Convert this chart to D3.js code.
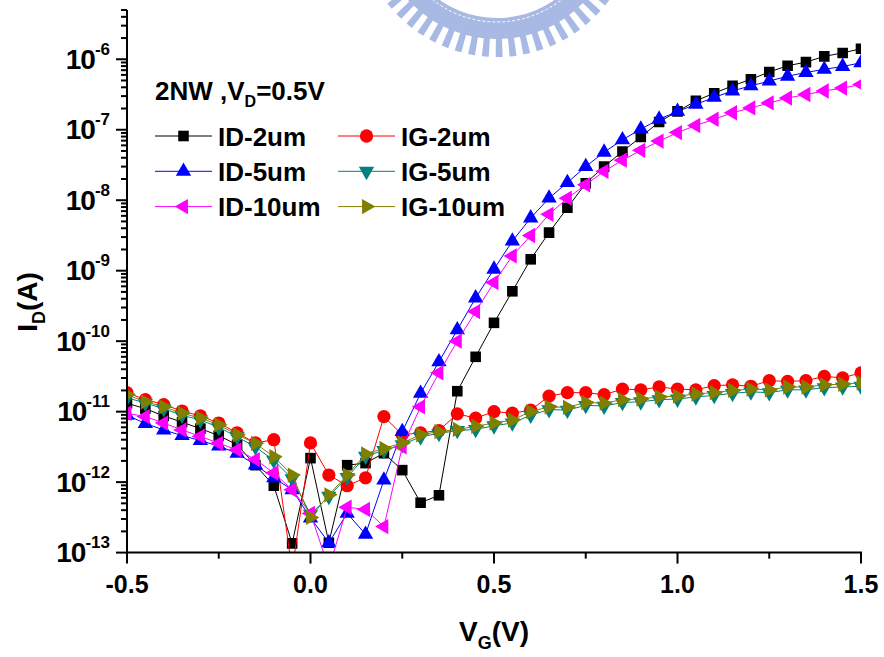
<!DOCTYPE html>
<html>
<head>
<meta charset="utf-8">
<script src="https://cdn.jsdelivr.net/npm/d3@7"></script>
<style>
  body { margin: 0; background: #fff; }
  text { font-family: "Liberation Sans", Arial, sans-serif; font-weight: bold; fill: #000; }
</style>
</head>
<body>
<script>
// gate voltage (V)
const Vg = [-0.5, -0.45, -0.4, -0.35, -0.3, -0.25, -0.2, -0.15, -0.1, -0.05,
            0.0, 0.05, 0.1, 0.15, 0.2, 0.25, 0.3, 0.35, 0.4, 0.45,
            0.5, 0.55, 0.6, 0.65, 0.7, 0.75, 0.8, 0.85, 0.9, 0.95,
            1.0, 1.05, 1.1, 1.15, 1.2, 1.25, 1.3, 1.35, 1.4, 1.45, 1.5];

// currents (A)
const id2um = [1.32e-11, 1.10e-11, 8.7e-12, 7.08e-12, 5.75e-12, 4.57e-12, 3.39e-12, 1.74e-12, 8.9e-13, 1.35e-13,
               2.19e-12, 1.38e-13, 1.74e-12, 1.86e-12, 2.57e-12, 1.48e-12, 5.1e-13, 6.5e-13, 1.95e-11, 6.0e-11,
               1.82e-10, 5.1e-10, 1.45e-9, 3.47e-9, 7.8e-9, 1.74e-8, 3.0e-8, 4.9e-8, 7.9e-8, 1.29e-7,
               1.82e-7, 2.57e-7, 3.3e-7, 4.2e-7, 5.2e-7, 6.6e-7, 8.1e-7, 9.1e-7, 1.10e-6, 1.23e-6, 1.41e-6];
const ig2um = [1.86e-11, 1.48e-11, 1.26e-11, 1.02e-11, 8.7e-12, 6.9e-12, 5.0e-12, 3.6e-12, 4.0e-12, 5.6e-14,
               3.6e-12, 1.26e-12, 8.9e-13, 1.15e-12, 8.5e-12, 4.7e-12, 5.0e-12, 5.4e-12, 9.3e-12, 8.1e-12,
               1.0e-11, 9.5e-12, 1.05e-11, 1.66e-11, 1.86e-11, 1.86e-11, 1.74e-11, 2.09e-11, 2.04e-11, 2.24e-11,
               2.09e-11, 2.04e-11, 2.34e-11, 2.40e-11, 2.29e-11, 2.75e-11, 2.69e-11, 2.75e-11, 3.16e-11, 3.02e-11, 3.55e-11];
const id5um = [8.9e-12, 6.8e-12, 5.5e-12, 4.57e-12, 3.89e-12, 3.24e-12, 2.57e-12, 1.74e-12, 1.15e-12, 7.8e-13,
               3.1e-13, 1.38e-13, 3.6e-13, 1.82e-13, 1.07e-12, 5.2e-12, 1.82e-11, 5.1e-11, 1.45e-10, 4.1e-10,
               1.05e-9, 2.63e-9, 5.6e-9, 1.07e-8, 1.78e-8, 3.0e-8, 4.8e-8, 7.2e-8, 1.02e-7, 1.41e-7,
               1.82e-7, 2.29e-7, 2.88e-7, 3.55e-7, 4.2e-7, 4.9e-7, 5.75e-7, 6.5e-7, 7.2e-7, 7.9e-7, 8.9e-7];
const ig5um = [1.58e-11, 1.32e-11, 1.10e-11, 8.9e-12, 7.6e-12, 6.0e-12, 4.4e-12, 3.16e-12, 2.04e-12, 1.12e-12,
               3.5e-13, 6.3e-13, 1.17e-12, 2.34e-12, 2.82e-12, 3.39e-12, 4.4e-12, 4.9e-12, 5.4e-12, 5.6e-12,
               6.3e-12, 6.9e-12, 8.9e-12, 1.07e-11, 1.05e-11, 1.23e-11, 1.20e-11, 1.35e-11, 1.38e-11, 1.48e-11,
               1.51e-11, 1.62e-11, 1.70e-11, 1.82e-11, 1.91e-11, 1.86e-11, 2.04e-11, 2.04e-11, 2.19e-11, 2.24e-11, 2.29e-11];
const id10um = [9.5e-12, 8.5e-12, 6.9e-12, 5.5e-12, 4.47e-12, 3.55e-12, 2.88e-12, 2.09e-12, 1.35e-12, 7.8e-13,
                3.6e-13, 6.0e-14, 4.4e-13, 4.1e-13, 2.34e-13, 3.16e-12, 1.17e-11, 3.55e-11, 1.0e-10, 2.63e-10,
                6.8e-10, 1.62e-9, 3.16e-9, 6.3e-9, 1.07e-8, 1.66e-8, 2.57e-8, 3.7e-8, 5.1e-8, 6.9e-8,
                9.1e-8, 1.15e-7, 1.41e-7, 1.74e-7, 2.04e-7, 2.40e-7, 2.82e-7, 3.16e-7, 3.55e-7, 3.9e-7, 4.4e-7];
const ig10um = [1.74e-11, 1.38e-11, 1.17e-11, 9.5e-12, 8.1e-12, 6.5e-12, 4.7e-12, 3.55e-12, 2.29e-12, 1.26e-12,
                3.16e-13, 6.6e-13, 1.26e-12, 2.51e-12, 3.0e-12, 3.6e-12, 4.7e-12, 5.2e-12, 5.6e-12, 6.2e-12,
                6.9e-12, 7.6e-12, 1.0e-11, 1.17e-11, 1.15e-11, 1.35e-11, 1.32e-11, 1.48e-11, 1.51e-11, 1.62e-11,
                1.66e-11, 1.78e-11, 1.86e-11, 2.0e-11, 2.09e-11, 2.04e-11, 2.24e-11, 2.24e-11, 2.40e-11, 2.45e-11, 2.57e-11];

const xTicks = [-0.5, 0.0, 0.5, 1.0, 1.5];
const xTickLabels = ["-0.5", "0.0", "0.5", "1.0", "1.5"];
const yDecades = [-13, -12, -11, -10, -9, -8, -7, -6];

const width = 884, height = 657;
const pLeft = 127, pRight = 861, pTop = 10, pBottom = 552.6;

const svg = d3.select("body").append("svg")
    .attr("width", width)
    .attr("height", height);

// faint watermark logo behind the plot
const wm = svg.append("g").attr("transform", "translate(497,-82)").attr("fill", "#93a8dd").attr("opacity", 0.8);
wm.append("path").attr("d", d3.arc()({innerRadius: 100, outerRadius: 121, startAngle: Math.PI / 2, endAngle: 3 * Math.PI / 2}));
for (let a = Math.PI / 2 + 0.03; a < 3 * Math.PI / 2; a += 0.1) {
    wm.append("path").attr("d", d3.arc()({innerRadius: 119, outerRadius: 139, startAngle: a, endAngle: a + 0.05}));
}
wm.append("circle").attr("r", 104).attr("fill", "none").attr("stroke", "#fff")
    .attr("stroke-width", 1).attr("stroke-dasharray", "3,2");

const x = d3.scaleLinear().domain([-0.5, 1.5]).range([pLeft, pRight]);
const y = d3.scaleLog().domain([1e-13, 5e-6]).range([pBottom, pTop]);

svg.append("clipPath").attr("id", "plot")
    .append("rect").attr("x", pLeft).attr("y", pTop).attr("width", pRight - pLeft).attr("height", pBottom - pTop);

const series = [
    {name: "ID-2um", values: id2um, color: "#000000", type: d3.symbolSquare, rot: 0, size: 112},
    {name: "IG-2um", values: ig2um, color: "#ff0000", type: d3.symbolCircle, rot: 0, size: 138},
    {name: "ID-5um", values: id5um, color: "#0000ff", type: d3.symbolTriangle, rot: 0, size: 102},
    {name: "IG-5um", values: ig5um, color: "#008080", type: d3.symbolTriangle, rot: 180, size: 102},
    {name: "ID-10um", values: id10um, color: "#ff00ff", type: d3.symbolTriangle, rot: -90, size: 102},
    {name: "IG-10um", values: ig10um, color: "#808000", type: d3.symbolTriangle, rot: 90, size: 102}
];

const line = d3.line().x(d => x(d[0])).y(d => y(d[1]));
const plot = svg.append("g").attr("clip-path", "url(#plot)");

series.forEach(s => {
    const pts = Vg.map((v, i) => [v, s.values[i]]);
    plot.append("path")
        .attr("d", line(pts))
        .attr("fill", "none")
        .attr("stroke", s.color)
        .attr("stroke-width", 1);
    plot.append("g").selectAll("path")
        .data(pts)
        .enter().append("path")
        .attr("d", d3.symbol().type(s.type).size(s.size))
        .attr("transform", d => `translate(${x(d[0])},${y(d[1])}) rotate(${s.rot})`)
        .attr("fill", s.color);
});

// axes
const axes = svg.append("g").attr("stroke", "#000").attr("stroke-width", 2);
axes.append("line").attr("x1", pLeft).attr("x2", pLeft).attr("y1", pTop).attr("y2", pBottom + 1);
axes.append("line").attr("x1", pLeft - 1).attr("x2", pRight + 1).attr("y1", pBottom).attr("y2", pBottom);

// x ticks
[-0.5, -0.25, 0, 0.25, 0.5, 0.75, 1.0, 1.25, 1.5].forEach(v => {
    const major = xTicks.includes(v);
    axes.append("line").attr("x1", x(v)).attr("x2", x(v))
        .attr("y1", pBottom).attr("y2", pBottom + (major ? 11 : 6));
});
svg.append("g").selectAll("text")
    .data(xTicks)
    .enter().append("text")
    .attr("x", d => x(d))
    .attr("y", 593)
    .attr("text-anchor", "middle")
    .attr("font-size", 25)
    .text((d, i) => xTickLabels[i]);

// y ticks (log)
const yMinor = y.ticks().filter(v => v >= 1e-13 && v <= 5e-6);
yMinor.forEach(v => {
    const major = Math.abs(Math.log10(v) - Math.round(Math.log10(v))) < 1e-6;
    axes.append("line").attr("x1", pLeft).attr("x2", pLeft - (major ? 11 : 6))
        .attr("y1", y(v)).attr("y2", y(v));
});
const yl = svg.append("g").selectAll("text")
    .data(yDecades)
    .enter().append("text")
    .attr("x", 110)
    .attr("y", d => y(Math.pow(10, d)))
    .attr("dy", "0.34em")
    .attr("text-anchor", "end")
    .attr("font-size", 28)
    .attr("letter-spacing", -1);
yl.append("tspan").text("10");
yl.append("tspan").attr("font-size", 17).attr("dy", -14).attr("letter-spacing", 0).text(d => d);

// axis titles
const xt = svg.append("text").attr("x", 494).attr("y", 641).attr("text-anchor", "middle").attr("font-size", 28);
xt.append("tspan").text("V");
xt.append("tspan").attr("font-size", 18).attr("dy", 8).text("G");
xt.append("tspan").attr("dy", -8).text("(V)");

const yt = svg.append("text").attr("transform", "translate(37,302) rotate(-90)")
    .attr("text-anchor", "middle").attr("font-size", 28);
yt.append("tspan").text("I");
yt.append("tspan").attr("font-size", 18).attr("dy", 8).text("D");
yt.append("tspan").attr("dy", -8).text("(A)");

// legend
const title = svg.append("text").attr("x", 155).attr("y", 100).attr("font-size", 26);
title.append("tspan").text("2NW ,V");
title.append("tspan").attr("font-size", 16).attr("dy", 7).text("D");
title.append("tspan").attr("dy", -7).text("=0.5V");

const legend = svg.append("g");
series.forEach((s, i) => {
    const col = i % 2, row = Math.floor(i / 2);
    const lx = col === 0 ? 155 : 338;
    const ly = 136 + row * 35.3;
    legend.append("line").attr("x1", lx).attr("x2", lx + 57).attr("y1", ly).attr("y2", ly)
        .attr("stroke", s.color).attr("stroke-width", 1);
    legend.append("path")
        .attr("d", d3.symbol().type(s.type).size(s.size))
        .attr("transform", `translate(${lx + 28.5},${ly}) rotate(${s.rot})`)
        .attr("fill", s.color);
    legend.append("text").attr("x", lx + 63).attr("y", ly + 9.5).attr("font-size", 26).text(s.name);
});
</script>
</body>
</html>
